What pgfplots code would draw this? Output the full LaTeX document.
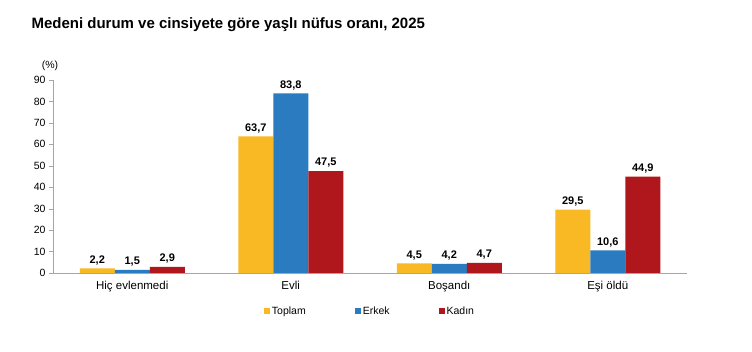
\documentclass[border=0pt]{standalone}
\usepackage{pgfplots}
\pgfplotsset{compat=1.18}
\usepackage{fontspec}
\setmainfont{Liberation Sans}
\definecolor{cY}{HTML}{F9B924}
\definecolor{cB}{HTML}{2A7BC0}
\definecolor{cR}{HTML}{B0171C}
\definecolor{axg}{HTML}{A6A6A6}
\begin{document}
\begin{tikzpicture}[x=1pt,y=1pt]
\path[use as bounding box] (0,0) rectangle (752,352);
\node[anchor=west,font=\fontsize{15}{17}\selectfont\bfseries] at (28,327) {Medeni durum ve cinsiyete göre yaşlı nüfus oranı, 2025};
\begin{axis}[
  at={(53pt,79pt)}, anchor=south west,
  scale only axis, width=634pt, height=193pt,
  ybar=0pt, bar width=35pt,
  xmin=-0.5, xmax=3.5, ymin=0, ymax=90,
  ytick={0,10,...,90},
  xtick={0,1,2,3},
  xticklabels={Hiç evlenmedi,Evli,Boşandı,Eşi öldü},
  x tick label style={font=\fontsize{11.5}{13}\selectfont, yshift=-1pt},
  y tick label style={font=\fontsize{10.5}{12}\selectfont},
  /pgf/number format/assume math mode=true,
  major x tick style={draw=none},
  extra x ticks={-0.5,0.5,1.5,2.5,3.5},
  extra x tick labels={},
  extra x tick style={major tick length=5pt, tick style={draw=axg}, tick align=outside},
  axis x line*=bottom, axis y line*=left,
  axis line style={draw=axg,-},
  ytick style={draw=axg},
  tick align=outside, major tick length=4pt,
  nodes near coords,
  every node near coord/.append style={font=\fontsize{11}{13}\selectfont\bfseries, /pgf/number format/.cd, use comma, fixed, fixed zerofill, precision=1},
  legend style={at={(0.5,-0.197)}, anchor=center, draw=none, legend columns=3,
    font=\fontsize{10.5}{12}\selectfont,
    /tikz/every odd column/.append style={column sep=0pt},
    /tikz/every even column/.append style={column sep=47pt}},
  legend image code/.code={\fill[#1] (0pt,-3pt) rectangle (6pt,3pt);},
  clip=false,
]
\addplot[fill=cY, draw=none] coordinates {(0,2.2) (1,63.7) (2,4.5) (3,29.5)};
\addplot[fill=cB, draw=none] coordinates {(0,1.5) (1,83.8) (2,4.2) (3,10.6)};
\addplot[fill=cR, draw=none] coordinates {(0,2.9) (1,47.5) (2,4.7) (3,44.9)};
\legend{Toplam,Erkek,Kadın}
\node[font=\fontsize{10.5}{12}\selectfont] at (rel axis cs:0,1) [xshift=-3pt, yshift=14pt] {(\%)};
\end{axis}
\end{tikzpicture}
\end{document}
